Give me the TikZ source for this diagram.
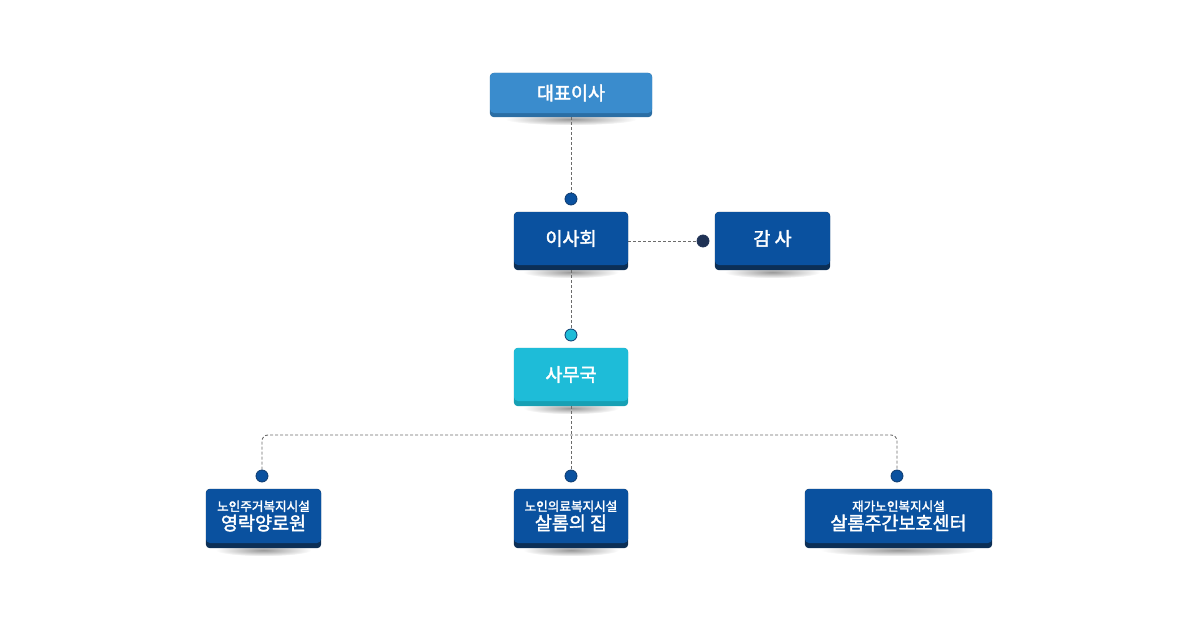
\documentclass[tikz,border=0pt]{standalone}
\usepackage{fontspec}
\setmainfont{Noto Sans CJK KR}[FakeBold=2]
\usetikzlibrary{backgrounds}
\definecolor{ceoBlue}{HTML}{3A8CCD}
\definecolor{ceoStrip}{HTML}{2B6EA4}
\definecolor{mainBlue}{HTML}{0A519F}
\definecolor{mainStrip}{HTML}{0C2F56}
\definecolor{officeCyan}{HTML}{1EBCD8}
\definecolor{officeStrip}{HTML}{17A0B4}
\definecolor{dotNavy}{HTML}{1F3255}
\definecolor{dotEdge}{HTML}{0D3A6E}
\definecolor{lineGray}{HTML}{6B6B6B}
\begin{document}
\begin{tikzpicture}[x=1pt,y=-1pt,
  box/.style={rounded corners=4, inner sep=0, text=white, align=center,
    font=\fontsize{18.5}{21}\selectfont},
  dot/.style={circle, inner sep=0, minimum size=12, line width=0.8},
  conn/.style={draw=lineGray, line width=0.9, dash pattern=on 3pt off 2pt},
  shadowfx/.style={inner color=black!40, outer color=white}]
\useasboundingbox (0,0) rectangle (1200,626);

% boxes
\node[box, fill=ceoBlue, minimum width=162, minimum height=40] (ceo) at (571,93) {\raisebox{-2pt}{대표이사}};
\node[box, fill=mainBlue, minimum width=114, minimum height=53] (board) at (571,238.5) {\raisebox{-1.5pt}{이사회}};
\node[box, fill=mainBlue, minimum width=115, minimum height=53] (audit) at (772.5,238.5) {\raisebox{-1.5pt}{감 사}};
\node[box, fill=officeCyan, minimum width=114, minimum height=53] (office) at (571,374.5) {사무국};
\node[box, fill=mainBlue, minimum width=115, minimum height=54] (f1) at (263.5,516)
  {{\fontsize{12.6}{14}\selectfont 노인주거복지시설}\\[-2pt]영락양로원};
\node[box, fill=mainBlue, minimum width=114, minimum height=54] (f2) at (571,516)
  {{\fontsize{12.6}{14}\selectfont 노인의료복지시설}\\[-2pt]살롬의 집};
\node[box, fill=mainBlue, minimum width=187, minimum height=54] (f3) at (898.5,516)
  {{\fontsize{12.6}{14}\selectfont 재가노인복지시설}\\[-2pt]살롬주간보호센터};

% dots
\node[dot, fill=mainBlue, draw=dotEdge] (d0) at (571,199) {};
\node[dot, fill=dotNavy, draw=dotNavy] (da) at (703,241) {};
\node[dot, fill=officeCyan, draw=dotEdge] (do) at (571,335) {};
\node[dot, fill=mainBlue, draw=dotEdge] (d1) at (262,476) {};
\node[dot, fill=mainBlue, draw=dotEdge] (d2) at (571,476) {};
\node[dot, fill=mainBlue, draw=dotEdge] (d3) at (897,476) {};
\coordinate (j) at (571,435);

\begin{scope}[on background layer]
  % shadows
  \shade[shadowfx] ([yshift=-6pt]ceo.south) ellipse [x radius=66pt, y radius=6pt];
  \foreach \n/\w in {board/48, audit/48, office/48, f1/48, f2/48, f3/78}
    \shade[shadowfx] ([yshift=-7pt]\n.south) ellipse [x radius=\w pt, y radius=6pt];
  % strips
  \fill[ceoStrip, rounded corners=4] (ceo.north west) rectangle ([yshift=-4pt]ceo.south east);
  \foreach \n in {board, audit, f1, f2, f3}
    \fill[mainStrip, rounded corners=4] (\n.north west) rectangle ([yshift=-5pt]\n.south east);
  \fill[officeStrip, rounded corners=4] (office.north west) rectangle ([yshift=-5pt]office.south east);
  % connectors
  \draw[conn] ([yshift=-4pt]ceo.south) -- (d0);
  \draw[conn] (da -| board.east) -- (da);
  \draw[conn] ([yshift=-5pt]board.south) -- (do);
  \draw[conn] ([yshift=-5pt]office.south) -- (d2);
  \draw[conn, rounded corners=6] (d1) |- (j) -| (d3);
\end{scope}
\end{tikzpicture}
\end{document}
